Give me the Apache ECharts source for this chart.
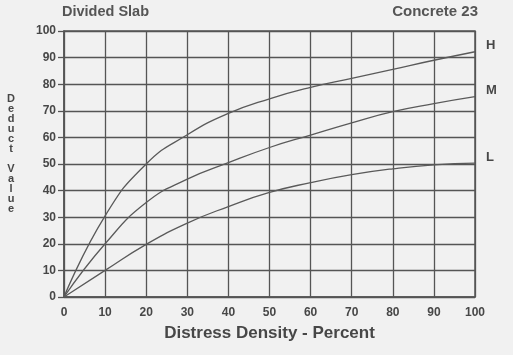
<!DOCTYPE html>
<html>
<head>
<meta charset="utf-8">
<script src="https://cdn.jsdelivr.net/npm/echarts@6/dist/echarts.min.js"></script>
<style>html,body{margin:0;padding:0;background:#f1f1f1;}#c{width:513px;height:355px;}</style>
</head>
<body>
<div id="c"></div>
<script>
var density = [0, 10, 20, 30, 40, 50, 60, 70, 80, 90, 100];
var highValues = [0, 30.5, 50, 61, 69, 74.5, 78.8, 82.2, 85.6, 89, 92.2];
var mediumValues = [0, 20, 35.5, 44.3, 50.5, 56.2, 60.9, 65.5, 69.7, 72.7, 75.3];
var lowValues = [0, 10, 19.8, 27.8, 34, 39.3, 43, 46, 48.2, 49.7, 50.3];
var xTicks = [0, 10, 20, 30, 40, 50, 60, 70, 80, 90, 100];
var yTicks = [0, 10, 20, 30, 40, 50, 60, 70, 80, 90, 100];
var titleLeft = 'Divided Slab';
var titleRight = 'Concrete 23';
var xName = 'Distress Density - Percent';
var yName = 'Deduct Value';

function pairs(vals) { return density.map(function (d, i) { return [d, vals[i]]; }); }
var font = 'Liberation Sans, Arial, sans-serif';
var ink = '#474747';
var chart = echarts.init(document.getElementById('c'));
function mk(name, vals) {
  return {
    type: 'line', name: name, data: pairs(vals), smooth: 0.5,
    symbol: 'none', lineStyle: { color: '#5a5a5a', width: 1.3 },
    endLabel: { show: true, formatter: name, color: ink, fontFamily: font, fontWeight: 'bold', fontSize: 13, distance: 11, offset: [0, -6] },
    z: 3
  };
}
var letters = yName.split('');
var graphics = [];
var yy = 99;
letters.forEach(function (ch) {
  if (ch === ' ') { yy += 10; return; }
  graphics.push({ type: 'text', x: 11, y: yy, style: { text: ch, fill: ink, font: 'bold 11px ' + font, align: 'center', verticalAlign: 'middle' } });
  yy += 10;
});
graphics.push({ type: 'text', x: 62, y: 12, style: { text: titleLeft, fill: '#555', font: 'bold 14.5px ' + font, verticalAlign: 'middle' } });
graphics.push({ type: 'text', x: 478, y: 12, style: { text: titleRight, fill: '#555', font: 'bold 15px ' + font, align: 'right', verticalAlign: 'middle' } });

chart.setOption({
  backgroundColor: '#f1f1f1',
  animation: false,
  grid: { left: 64, right: 38, top: 31, bottom: 58 },
  xAxis: {
    type: 'value', min: 0, max: 100, interval: 10,
    name: xName, nameLocation: 'middle', nameGap: 28,
    nameTextStyle: { color: ink, fontFamily: font, fontWeight: 'bold', fontSize: 17 },
    axisLine: { show: true, lineStyle: { color: '#555', width: 1.5 } },
    axisTick: { show: false },
    axisLabel: { color: ink, fontFamily: font, fontWeight: 'bold', fontSize: 12, margin: 10,
      formatter: function (v) { return xTicks.indexOf(v) >= 0 ? String(v) : ''; } },
    splitLine: { show: true, lineStyle: { color: '#555', width: 1.3 } }
  },
  yAxis: {
    type: 'value', min: 0, max: 100, interval: 10,
    axisLine: { show: true, lineStyle: { color: '#555', width: 1.5 } },
    axisTick: { show: true, length: 6, lineStyle: { color: '#555', width: 1.3 } },
    axisLabel: { color: ink, fontFamily: font, fontWeight: 'bold', fontSize: 12, margin: 8,
      formatter: function (v) { return yTicks.indexOf(v) >= 0 ? String(v) : ''; } },
    splitLine: { show: true, lineStyle: { color: '#555', width: 1.3 } }
  },
  graphic: graphics,
  series: [
    mk('H', highValues), mk('M', mediumValues), mk('L', lowValues),
    { type: 'line', data: [], markArea: { silent: true, itemStyle: { color: 'transparent', borderColor: '#555', borderWidth: 1.5 }, data: [[{ coord: [0, 0] }, { coord: [100, 100] }]] } }
  ]
});
</script>
</body>
</html>
